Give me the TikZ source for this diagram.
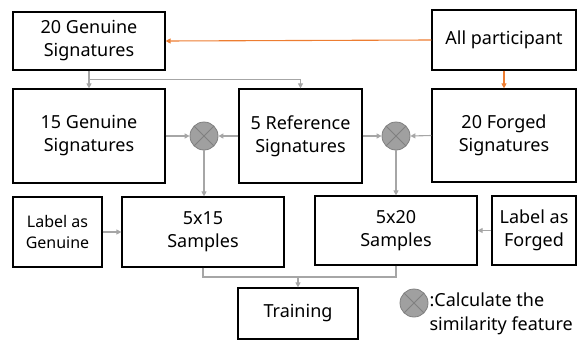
\documentclass[tikz,border=0pt]{standalone}
\usepackage{fontspec}
\setmainfont{Noto Sans}
\usetikzlibrary{arrows.meta,calc}
\definecolor{linegray}{HTML}{A6A6A6}
\definecolor{orangeline}{HTML}{ED7D31}
\definecolor{dotgray}{HTML}{A0A0A0}

\begin{document}
\begin{tikzpicture}
  [x=1pt, y=-1pt,
   box/.style={draw, line width=1.2pt, align=center, inner sep=0pt,
     font=\fontsize{18}{23}\selectfont},
   smallbox/.style={box, font=\fontsize{16}{21}\selectfont},
   mult/.style={circle, draw=gray, fill=dotgray, line width=0.8pt,
     minimum size=28pt, inner sep=0pt,
     path picture={\draw[gray, line width=0.8pt]
       (path picture bounding box.north west) -- (path picture bounding box.south east)
       (path picture bounding box.north east) -- (path picture bounding box.south west);}},
   flow/.style={draw=linegray, line width=1.1pt, -{Triangle[length=5pt,width=5pt]}},
   link/.style={draw=linegray, line width=1.1pt},
   hot/.style={draw=orangeline, line width=1.1pt, -{Triangle[length=5pt,width=5pt]}},
  ]
  \useasboundingbox (0,0) rectangle (577,340);

  \node[box, minimum width=152pt, minimum height=58pt] (g20) at (89,41) {20 Genuine\\Signatures};
  \node[box, minimum width=144pt, minimum height=60pt] (all) at (504,40) {All participant};
  \node[box, minimum width=152pt, minimum height=94pt] (g15) at (89,136) {15 Genuine\\Signatures};
  \node[box, minimum width=123pt, minimum height=94pt] (ref5) at (300.5,136) {5 Reference\\Signatures};
  \node[box, minimum width=144pt, minimum height=93pt] (f20) at (504,135.5) {20 Forged\\Signatures};

  \node[mult] (x1) at (204,136) {};
  \node[mult] (x2) at (396,136) {};

  \node[smallbox, minimum width=89pt, minimum height=70pt] (lgen) at (57.5,232) {Label as\\Genuine};
  \node[box, minimum width=162pt, minimum height=70pt] (s15) at (203,232) {5x15\\Samples};
  \node[box, minimum width=162pt, minimum height=69pt] (s20) at (396,230.5) {5x20\\Samples};
  \node[box, minimum width=84pt, minimum height=69pt] (lfor) at (534,230.5) {Label as\\Forged};
  \node[box, minimum width=120pt, minimum height=51pt] (train) at (298,313.5) {Training};

  \node[mult] (key) at (414,303) {};
  \node[anchor=west, align=left, inner sep=0pt, font=\fontsize{18}{24}\selectfont]
    (keytext) at ([xshift=1pt,yshift=-11pt]key.east) {:Calculate the\\similarity feature};

  % participants
  \path[hot] (all.west) -- (g20.east);
  \path[hot] (all.south) -- (f20.north);

  % split of the genuine set
  \coordinate (split) at ($(g20.south)!0.5!(g15.north)$);
  \path[flow] (g20.south) -- (g15.north);
  \path[flow] (split) -| (ref5.north);

  % similarity
  \path[flow] (g15.east) -- (x1.west);
  \path[flow] (ref5.west) -- (x1.east);
  \path[flow] (ref5.east) -- (x2.west);
  \path[flow] (f20.west) -- (x2.east);
  \path[flow] (x1.south) -- (x1.south |- s15.north);
  \path[flow] (x2.south) -- (x2.south |- s20.north);

  % labels
  \path[flow] (lgen.east) -- (lgen.east -| s15.west);
  \path[flow] (lfor.west) -- (lfor.west -| s20.east);

  % training
  \coordinate (merge) at (298,277);
  \path[link] (s15.south) |- (merge);
  \path[link] (s20.south) |- (merge);
  \path[flow] (merge) -- (train.north);
\end{tikzpicture}
\end{document}
